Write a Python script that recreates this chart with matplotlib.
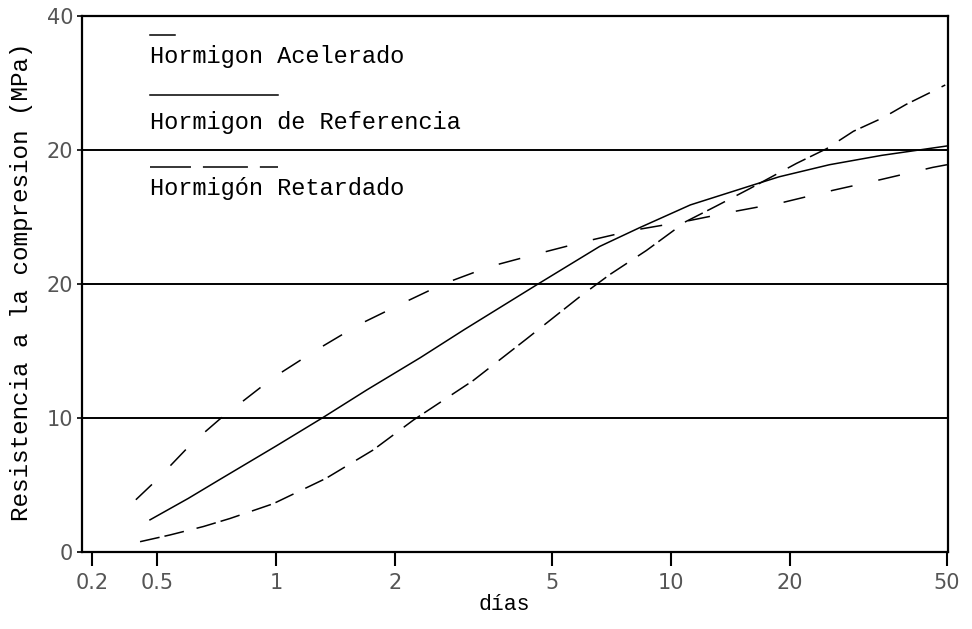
import matplotlib
matplotlib.use("Agg")
import matplotlib.pyplot as plt

plt.rcParams["lines.scale_dashes"] = False

# Compressive strength (MPa) versus age (days)
dias_acelerado = [0.442, 0.50, 0.612, 0.72, 0.983, 1.27, 1.63, 2.14, 2.65, 3.48,
                  4.66, 6.12, 8.0, 11.0, 14.4, 19.3, 25.8, 34.1, 46.0, 50.0]
res_acelerado = [3.9, 5.4, 8.1, 9.9, 13.0, 15.1, 17.0, 18.7, 20.0, 21.3,
                 22.3, 23.2, 24.0, 24.7, 25.4, 26.1, 27.0, 27.8, 28.7, 28.9]

dias_referencia = [0.48, 0.60, 0.72, 1.0, 1.31, 1.70, 2.32, 3.0, 4.61, 5.24,
                   6.6, 8.33, 11.2, 15.8, 18.8, 25.2, 34.2, 50.0]
res_referencia = [2.4, 4.0, 5.4, 7.9, 10.0, 12.1, 14.5, 16.6, 20.0, 21.0,
                  22.8, 24.2, 25.9, 27.3, 28.0, 28.9, 29.6, 30.3]

dias_retardado = [0.453, 0.539, 0.655, 0.765, 0.984, 1.34, 1.76, 2.23, 3.16, 4.31,
                  5.88, 7.0, 8.67, 10.9, 13.0, 15.8, 20.8, 24.8, 29.0, 34.4,
                  39.4, 46.9, 49.5]
res_retardado = [0.77, 1.27, 1.9, 2.5, 3.6, 5.5, 7.6, 9.85, 12.8, 15.9,
                 19.05, 20.7, 22.5, 24.65, 25.8, 27.1, 29.0, 30.1, 31.4, 32.4,
                 33.4, 34.5, 34.85]

x_tick_pos = [0.342, 0.5, 1, 2, 5, 10, 20, 50]
x_tick_labels = ["0.2", "0.5", "1", "2", "5", "10", "20", "50"]
y_tick_pos = [0, 10, 20, 30, 40]
y_tick_labels = ["0", "10", "20", "20", "40"]

series_names = ["Hormigon Acelerado", "Hormigon de Referencia", "Hormigón Retardado"]

TEXT_FONT = ["Liberation Mono", "DejaVu Sans Mono"]
TICK_COLOR = "#555555"

fig = plt.figure(figsize=(9.72, 6.29), dpi=100)
ax = fig.add_axes([0.0844, 0.1224, 0.8909, 0.8522])

ax.set_xscale("log")
ax.set_xlim(0.323, 50.3)
ax.set_ylim(0, 40)

lw = 1.1
ax.plot(dias_acelerado, res_acelerado, color="black", lw=lw, dashes=(16, 19))
ax.plot(dias_referencia, res_referencia, color="black", lw=lw)
ax.plot(dias_retardado, res_retardado, color="black", lw=lw, dashes=(14.4, 3.6, 14.4, 9.4))

# Horizontal reference lines
ax.grid(axis="y", color="black", lw=1.4)
ax.grid(axis="x", visible=False)

for s in ax.spines.values():
    s.set_linewidth(1.6)

ax.set_xticks(x_tick_pos)
ax.set_xticklabels(x_tick_labels)
ax.xaxis.set_minor_locator(matplotlib.ticker.NullLocator())
ax.set_yticks(y_tick_pos)
ax.set_yticklabels(y_tick_labels)

ax.tick_params(axis="x", direction="out", length=10, width=1.5, pad=5,
               labelsize=15, labelcolor=TICK_COLOR)
ax.tick_params(axis="y", direction="out", length=3.5, width=1.2, pad=3,
               labelsize=15, labelcolor=TICK_COLOR)

ax.set_xlabel("días", fontsize=15.5, family=TEXT_FONT)
ax.xaxis.set_label_coords(0.487, -0.078)
ax.set_ylabel("Resistencia a la compresion (MPa)", fontsize=17.5, family=TEXT_FONT)
ax.yaxis.set_label_coords(-0.057, 0.504)

# Key: sample line above each series name
key_x0 = 0.0785
ax.plot([key_x0, 0.1074], [0.9646, 0.9646], transform=ax.transAxes,
        color="black", lw=1.1, clip_on=False)
ax.plot([key_x0, 0.2263], [0.8526, 0.8526], transform=ax.transAxes,
        color="black", lw=1.1, clip_on=False)
ax.plot([key_x0, 0.2263], [0.718, 0.718], transform=ax.transAxes,
        color="black", lw=1.1, dashes=(29.5, 8.6, 32.4, 8.6), clip_on=False)

for name, ty in zip(series_names, [0.9235, 0.802, 0.679]):
    ax.text(key_x0, ty, name, transform=ax.transAxes, fontsize=17,
            family=TEXT_FONT, va="center", ha="left")

fig.savefig("out.png", dpi=100)
